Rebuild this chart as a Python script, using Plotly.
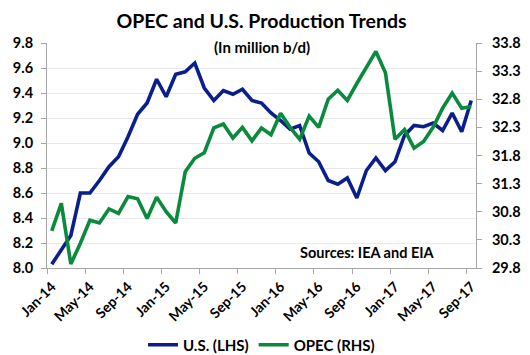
import plotly.graph_objects as go

months = []
for yr in range(14, 18):
    for m in ["Jan", "Feb", "Mar", "Apr", "May", "Jun", "Jul", "Aug", "Sep", "Oct", "Nov", "Dec"]:
        months.append(f"{m}-{yr}")
months = months[:45]  # Jan-14 .. Sep-17

us_lhs = [8.03, 8.15, 8.26, 8.60, 8.60, 8.70, 8.81, 8.89, 9.05, 9.23, 9.32, 9.51,
          9.37, 9.55, 9.57, 9.64, 9.44, 9.34, 9.42, 9.39, 9.43, 9.34, 9.32, 9.24,
          9.18, 9.11, 9.14, 8.92, 8.85, 8.70, 8.67, 8.72, 8.56, 8.78, 8.88, 8.78,
          8.85, 9.06, 9.14, 9.13, 9.16, 9.10, 9.24, 9.09, 9.34]

opec_rhs = [30.46, 30.95, 29.87, 30.24, 30.65, 30.60, 30.85, 30.77, 31.07, 31.03, 30.68, 31.06,
            30.80, 30.60, 31.51, 31.75, 31.85, 32.29, 32.36, 32.11, 32.30, 32.06, 32.29, 32.17,
            32.55, 32.30, 32.09, 32.50, 32.30, 32.80, 32.96, 32.78, 33.08, 33.37, 33.65, 33.27,
            32.09, 32.26, 31.93, 32.05, 32.30, 32.64, 32.91, 32.64, 32.67]

left_ticks = [8.0, 8.2, 8.4, 8.6, 8.8, 9.0, 9.2, 9.4, 9.6, 9.8]
right_ticks = [29.8, 30.3, 30.8, 31.3, 31.8, 32.3, 32.8, 33.3, 33.8]

FONT = "Lato"
BLUE = "#0B1F8C"
GREEN = "#0A8A3C"
AXIS = "#A6A6A6"
GRID = "#EAEAEA"

# the page body has an 8px margin, so the figure is laid out 8px smaller and shifted
OFF = 8
W, H = 530 - OFF, 355 - OFF
PL, PR, PT, PB = 47 - OFF, 476 - OFF, 43 - OFF, 268 - OFF

fig = go.Figure()
fig.add_trace(go.Scatter(x=months, y=us_lhs, name="U.S. (LHS)", mode="lines",
                         line=dict(color=BLUE, width=3.6), yaxis="y"))
fig.add_trace(go.Scatter(x=months, y=opec_rhs, name="OPEC (RHS)", mode="lines",
                         line=dict(color=GREEN, width=3.6), yaxis="y2"))

fig.update_layout(
    width=W, height=H,
    margin=dict(l=PL, r=W - PR, t=PT, b=H - PB, autoexpand=False),
    paper_bgcolor="white", plot_bgcolor="white",
    font=dict(family=FONT, color="#000000"),
    title=dict(text="OPEC and U.S. Production Trends", x=0.5, xref="paper",
               y=1 - (21 - OFF) / H, yanchor="middle", yref="container",
               font=dict(family=FONT, size=19.5, weight="bold", color="black")),
    showlegend=True,
    legend=dict(orientation="h", x=0.5, xanchor="center", xref="paper",
                y=1 - (345 - OFF) / H, yanchor="middle", yref="container",
                font=dict(family=FONT, size=15, weight="bold", color="black"),
                itemwidth=30, tracegroupgap=0),
    xaxis=dict(type="category", range=[-0.5, 44.5], tickmode="linear", tick0=0, dtick=4,
               tickson="boundaries", ticks="outside", ticklen=5, tickcolor=AXIS,
               showline=True, linecolor=AXIS, linewidth=1, showgrid=False,
               tickangle=-45, ticklabelstandoff=4, automargin=False,
               tickfont=dict(family=FONT, size=14, weight="bold", color="black")),
    yaxis=dict(range=[8.0, 9.8], tickvals=left_ticks, ticktext=[f"{v:.1f}" for v in left_ticks],
               ticks="outside", ticklen=5, tickcolor=AXIS, showline=True, linecolor=AXIS,
               showgrid=True, gridcolor=GRID, gridwidth=1, zeroline=False,
               ticklabelstandoff=5, automargin=False,
               tickfont=dict(family=FONT, size=14.5, weight="bold", color="black")),
    yaxis2=dict(range=[29.8, 33.8], tickvals=right_ticks, ticktext=[f"{v:.1f}" for v in right_ticks],
                overlaying="y", side="right",
                ticks="outside", ticklen=5, tickcolor=AXIS, showline=True, linecolor=AXIS,
                showgrid=False, zeroline=False, ticklabelstandoff=7, automargin=False,
                tickfont=dict(family=FONT, size=14.5, weight="bold", color="black")),
    annotations=[
        dict(text="(In million b/d)", xref="paper", yref="paper", x=0.5,
             y=(PB - (47 - OFF)) / (PB - PT),
             xanchor="center", yanchor="middle", showarrow=False,
             font=dict(family=FONT, size=15, weight="bold", color="black")),
        dict(text="Sources: IEA and EIA", xref="paper", yref="paper",
             x=(367 - 47) / (476 - 47), y=(268 - 252) / (268 - 43),
             xanchor="center", yanchor="middle", showarrow=False,
             font=dict(family=FONT, size=14.5, weight="bold", color="black")),
    ],
)

fig.write_html("out.html")
